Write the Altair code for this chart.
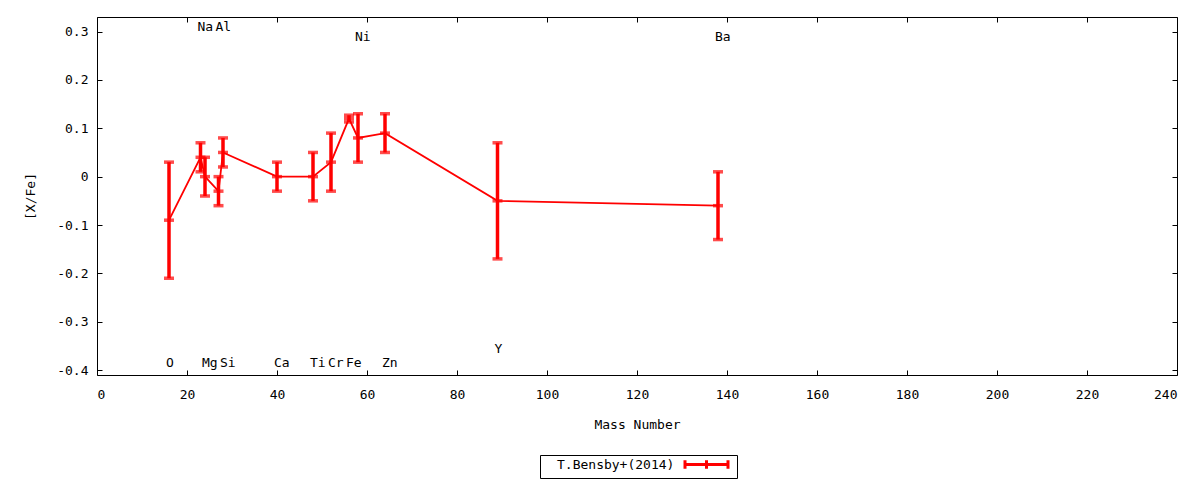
import altair as alt
import pandas as pd

# ---- data ----
elements = ["O", "Na", "Mg", "Al", "Si", "Ca", "Ti", "Cr", "Fe", "Ni", "Zn", "Y", "Ba"]
mass = [16, 23, 24, 27, 28, 40, 48, 52, 56, 58, 64, 89, 138]
xfe = [-0.09, 0.04, 0.0, -0.03, 0.05, 0.0, 0.0, 0.03, 0.12, 0.08, 0.09, -0.05, -0.06]
err = [0.12, 0.03, 0.04, 0.03, 0.03, 0.03, 0.05, 0.06, 0.007, 0.05, 0.04, 0.12, 0.07]
label_y = [-0.386, 0.309, -0.386, 0.309, -0.386, -0.386, -0.386, -0.386, -0.386,
           0.289, -0.386, -0.357, 0.289]
series_name = "T.Bensby+(2014)"
x_ticks = list(range(0, 241, 20))
y_ticks = [-0.4, -0.3, -0.2, -0.1, 0.0, 0.1, 0.2, 0.3]

df = pd.DataFrame({"element": elements, "mass": mass, "xfe": xfe, "err": err,
                   "label_y": label_y})
df["lo"] = df["xfe"] - df["err"]
df["hi"] = df["xfe"] + df["err"]
df["series"] = series_name

FONT = "DejaVu Sans Mono"
RED = "#ff0000"

xscale = alt.Scale(domain=[0, 240], nice=False, zero=False)
yscale = alt.Scale(domain=[-0.41, 0.33], nice=False, zero=False)

ylabel = ("datum.value < -0.00001 ? '-' + format(-datum.value, '.1f') : "
          "(abs(datum.value) < 0.00001 ? '0' : format(datum.value, '.1f'))")

x_axis = alt.Axis(values=x_ticks, title="Mass Number", format="d", offset=-5,
                  domain=False, tickSize=5, labelPadding=13, titlePadding=17)
y_axis = alt.Axis(values=y_ticks, title="[X/Fe]", labelExpr=ylabel, offset=-5,
                  domain=False, tickSize=5, labelPadding=9, titlePadding=19)
x_top = alt.Axis(values=x_ticks, orient="top", labels=False, title=None,
                 offset=-5, domain=False, tickSize=5)
y_right = alt.Axis(values=y_ticks, orient="right", labels=False, title=None,
                   offset=-5, domain=False, tickSize=5)

base = alt.Chart(df)

# errorbar-shaped legend key (wider than the unit square; drawn 43px wide)
key_path = "M-4.3,0H4.3M-4.3,-0.86V0.86M4.3,-0.86V0.86M0,-0.86V0.86"

line = base.mark_line(strokeWidth=1.8).encode(
    x=alt.X("mass:Q", scale=xscale, axis=x_axis),
    y=alt.Y("xfe:Q", scale=yscale, axis=y_axis),
    color=alt.Color(
        "series:N",
        scale=alt.Scale(domain=[series_name], range=[RED]),
        legend=alt.Legend(
            title=None, orient="none", legendX=443, legendY=438,
            symbolType=key_path,
            symbolSize=100, symbolStrokeWidth=3, symbolStrokeColor=RED,
            symbolFillColor="transparent",
            symbolOffset=157, labelOffset={"expr": "-156"},
            labelFont=FONT, labelFontSize=13, labelColor="black",
            strokeColor="black", padding=3,
        ),
    ),
)

bars = base.mark_rule(color=RED, strokeWidth=3.5).encode(
    x=alt.X("mass:Q", scale=xscale, axis=x_top),
    y=alt.Y("lo:Q", scale=yscale, axis=y_right),
    y2="hi:Q",
)

caps = base.transform_fold(["lo", "hi", "xfe"], as_=["which", "val"]).mark_tick(
    color=RED, orient="horizontal", size=10, thickness=3.5
).encode(
    x=alt.X("mass:Q", scale=xscale, axis=None),
    y=alt.Y("val:Q", scale=yscale, axis=None),
)

labels = base.mark_text(align="left", baseline="middle", dx=-3, font=FONT,
                        fontSize=13, color="black").encode(
    x=alt.X("mass:Q", scale=xscale, axis=None),
    y=alt.Y("label_y:Q", scale=yscale, axis=None),
    text="element:N",
)

chart = alt.layer(line, bars, caps, labels).resolve_axis(
    x="independent", y="independent"
).properties(
    width=1080, height=358,
    autosize=alt.AutoSizeParams(type="none"),
    padding={"left": 89, "top": 9, "right": 15, "bottom": 105},
).configure_view(
    stroke="black", strokeWidth=1
).configure_axis(
    grid=False, labelFont=FONT, labelFontSize=13, labelColor="black",
    titleFont=FONT, titleFontSize=13, titleFontWeight="normal", titleColor="black",
    tickColor="black", tickWidth=1,
)

chart.save("out.html", embed_options={"renderer": "svg", "actions": False})
